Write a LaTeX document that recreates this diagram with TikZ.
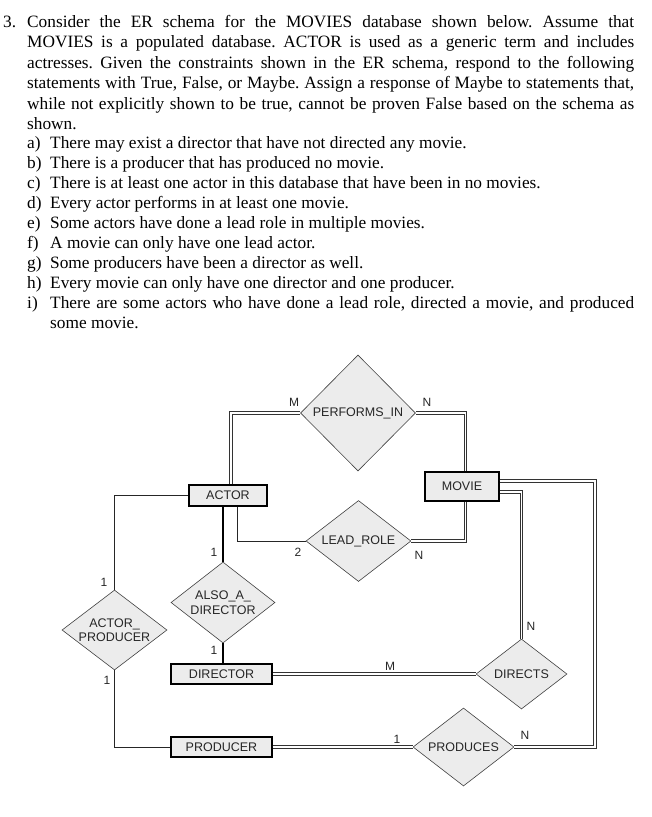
\documentclass[tikz,border=0pt]{standalone}
\usepackage{fontspec}
\setmainfont{Liberation Serif}
\setsansfont{Liberation Sans}
\usetikzlibrary{shapes.geometric}
\frenchspacing
\begin{document}
\begin{tikzpicture}[x=1pt,y=-1pt,
  txt/.style={anchor=base west,inner sep=0pt,font=\fontsize{17.3}{20}\selectfont},
  entity/.style={draw=black,line width=1.3pt,fill=gray!15,inner sep=0pt,
    font=\sffamily\fontsize{12.5}{14}\selectfont,text=black!85},
  rel/.style={diamond,draw=black!75,line width=0.6pt,fill=gray!15,inner sep=0pt},
  rlab/.style={font=\sffamily\fontsize{12.5}{14.5}\selectfont,text=black!85,align=center,inner sep=0pt},
  card/.style={font=\sffamily\fontsize{12}{14}\selectfont,text=black!85,inner sep=0pt},
  dbl/.style={draw=black!80,line width=0.9pt,double=white,double distance=1.5pt},
  thin/.style={draw=black!85,line width=0.9pt},
  thick/.style={draw=black,line width=1.8pt}]
\useasboundingbox (0,0) rectangle (651,817);
% ---- question text
\node[txt] (n3) at (3,27) {3.};
\node[txt] (t1) at (27,27) {\makebox[607pt][s]{Consider the ER schema for the MOVIES database shown below. Assume that}};
\node[txt] (t2) at (27,47) {\makebox[607pt][s]{MOVIES is a populated database. ACTOR is used as a generic term and includes}};
\node[txt] (t3) at (27,68) {\makebox[607pt][s]{actresses. Given the constraints shown in the ER schema, respond to the following}};
\node[txt] (t4) at (27,88) {\makebox[607pt][s]{statements with True, False, or Maybe. Assign a response of Maybe to statements that,}};
\node[txt] (t5) at (27,109) {\makebox[607pt][s]{while not explicitly shown to be true, cannot be proven False based on the schema as}};
\node[txt] (t6) at (27,129) {shown.};
\node[txt] (la) at (27,148) {a)}; \node[txt] (ia) at (50,148) {There may exist a director that have not directed any movie.};
\node[txt] (lb) at (27,168) {b)}; \node[txt] (ib) at (50,168) {There is a producer that has produced no movie.};
\node[txt] (lc) at (27,188) {c)}; \node[txt] (ic) at (50,188) {There is at least one actor in this database that have been in no movies.};
\node[txt] (ld) at (27,208) {d)}; \node[txt] (id) at (50,208) {Every actor performs in at least one movie.};
\node[txt] (le) at (27,228) {e)}; \node[txt] (ie) at (50,228) {Some actors have done a lead role in multiple movies.};
\node[txt] (lf) at (27,248) {f)}; \node[txt] (if) at (50,248) {A movie can only have one lead actor.};
\node[txt] (lg) at (27,268) {g)}; \node[txt] (ig) at (50,268) {Some producers have been a director as well.};
\node[txt] (lh) at (27,288) {h)}; \node[txt] (ih) at (50,288) {Every movie can only have one director and one producer.};
\node[txt] (li) at (27,308) {i)}; \node[txt] (ii) at (50,308) {\makebox[584pt][s]{There are some actors who have done a lead role, directed a movie, and produced}};
\node[txt] (ii2) at (50,328) {some movie.};
% ---- bend points
\coordinate (perfA) at (231,413);
\coordinate (perfM) at (465.5,413);
\coordinate (actL) at (114.5,495.5);
\coordinate (actLR) at (237,541);
\coordinate (movB) at (465.5,541);
\coordinate (dirUp) at (521.5,492);
\coordinate (prodR) at (595,481);
\coordinate (prodR2) at (595,747);
% ---- entities
\node[entity,minimum width=78pt,minimum height=21pt] (actor) at (228,495.5) {ACTOR};
\node[entity,minimum width=74pt,minimum height=29pt] (movie) at (462,486.5) {MOVIE};
\node[entity,minimum width=101pt,minimum height=20pt] (director) at (221.5,674) {DIRECTOR};
\node[entity,minimum width=101pt,minimum height=20pt] (producer) at (221.5,747) {PRODUCER};
% ---- relationships
\node[rel,minimum width=115pt,minimum height=116pt] (perf) at (358,413) {};
\node[rlab] (perfL) at (perf) {PERFORMS\_IN};
\node[rel,minimum width=105pt,minimum height=81pt] (lead) at (358.5,541) {};
\node[rlab] (leadL) at (lead) {LEAD\_ROLE};
\node[rel,minimum width=104pt,minimum height=81pt] (also) at (223,602.5) {};
\node[rlab] (alsoL) at (also) {ALSO\_A\_\\DIRECTOR};
\node[rel,minimum width=105pt,minimum height=80pt] (actprod) at (114.5,630) {};
\node[rlab] (actprodL) at (actprod) {ACTOR\_\\PRODUCER};
\node[rel,minimum width=91pt,minimum height=70pt] (directs) at (521.5,674) {};
\node[rlab] (directsL) at (directs) {DIRECTS};
\node[rel,minimum width=101pt,minimum height=78pt] (produces) at (463.5,747) {};
\node[rlab] (producesL) at (produces) {PRODUCES};
% ---- lines
\draw[dbl] (perf.west) -- (perfA) -- (perfA |- actor.north);
\draw[dbl] (perf.east) -- (perfM) -- (perfM |- movie.north);
\draw[thin] (actor.west) -- (actL) -- (actprod.north);
\draw[thin] (actprod.south) |- (producer.west);
\draw[thick] (also.north |- actor.south) -- (also.north);
\draw[thick] (also.south) -- (also.south |- director.north);
\draw[thin] (actLR |- actor.south) -- (actLR) -- (lead.west);
\draw[dbl] (director.east) -- (directs.west);
\draw[dbl] (directs.north) -- (dirUp) -- (dirUp -| movie.east);
\draw[dbl] (prodR -| movie.east) -- (prodR) -- (prodR2) -- (produces.east);
\draw[dbl] (movB |- movie.south) -- (movB) -- (lead.east);
\draw[dbl] (producer.east) -- (produces.west);
% ---- cardinalities
\node[card] (c1) at (294,402) {M};
\node[card] (c2) at (427,402) {N};
\node[card] (c3) at (214,552) {1};
\node[card] (c4) at (298,552) {2};
\node[card] (c5) at (104,582) {1};
\node[card] (c6) at (107,680) {1};
\node[card] (c7) at (214,650) {1};
\node[card] (c8) at (419,555) {N};
\node[card] (c9) at (390,666) {M};
\node[card] (c10) at (531,626) {N};
\node[card] (c11) at (397,739) {1};
\node[card] (c12) at (525,735) {N};
\end{tikzpicture}
\end{document}
